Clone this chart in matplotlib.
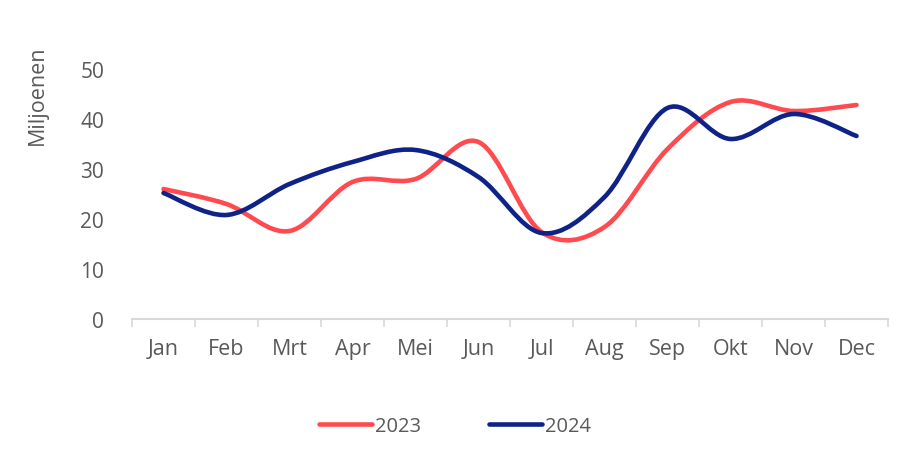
import numpy as np
import matplotlib.pyplot as plt
from matplotlib.path import Path
from matplotlib.patches import PathPatch
from matplotlib.lines import Line2D

plt.rcParams['font.family'] = ['Open Sans', 'DejaVu Sans']

months = ["Jan", "Feb", "Mrt", "Apr", "Mei", "Jun", "Jul", "Aug", "Sep", "Okt", "Nov", "Dec"]
values_2023 = [26.0, 23.0, 17.6, 27.4, 28.0, 35.4, 17.4, 18.4, 34.0, 43.4, 41.6, 42.8]
values_2024 = [25.2, 20.8, 27.0, 31.4, 33.8, 28.4, 17.2, 24.4, 42.2, 36.0, 41.0, 36.6]

red = "#FF4B4F"
navy = "#0E2287"
text_col = "#595959"


# Excel-style smoothed line: cubic Bezier through points (Catmull-Rom tangents)
def smooth_path(x, y):
    x = np.asarray(x, float)
    y = np.asarray(y, float)
    n = len(x)
    verts = [(x[0], y[0])]
    codes = [Path.MOVETO]
    for i in range(n - 1):
        p0 = (x[i - 1], y[i - 1]) if i > 0 else (x[i], y[i])
        p1 = (x[i], y[i])
        p2 = (x[i + 1], y[i + 1])
        p3 = (x[i + 2], y[i + 2]) if i + 2 < n else (x[i + 1], y[i + 1])
        c1 = (p1[0] + (p2[0] - p0[0]) / 6, p1[1] + (p2[1] - p0[1]) / 6)
        c2 = (p2[0] - (p3[0] - p1[0]) / 6, p2[1] - (p3[1] - p1[1]) / 6)
        verts += [c1, c2, p2]
        codes += [Path.CURVE4] * 3
    return Path(verts, codes)


fig = plt.figure(figsize=(8.97, 4.52), dpi=100)
ax = fig.add_axes([132 / 897, 132 / 452, 756 / 897, 250 / 452])

xs = np.arange(len(months))
for vals, col in [(values_2023, red), (values_2024, navy)]:
    patch = PathPatch(smooth_path(xs, vals), facecolor="none", edgecolor=col,
                      lw=3.3, capstyle="round", joinstyle="round", clip_on=False)
    ax.add_patch(patch)

ax.set_xlim(-0.5, len(months) - 0.5)
ax.set_ylim(0, 50)
ax.set_yticks(range(0, 51, 10))
ax.set_xticks(xs)
ax.set_xticklabels(months)
ax.set_xticks(np.arange(-0.5, len(months), 1), minor=True)
ax.tick_params(axis="x", which="major", length=0, pad=14, labelsize=15.5, labelcolor=text_col)
ax.tick_params(axis="x", which="minor", length=6, width=1.2, color="#D9D9D9", direction="out")
ax.tick_params(axis="y", length=0, pad=20, labelsize=15, labelcolor=text_col)

for s in ["top", "right", "left"]:
    ax.spines[s].set_visible(False)
ax.spines["bottom"].set_color("#D9D9D9")
ax.spines["bottom"].set_linewidth(1.5)

fig.text(37 / 897, 1 - 95 / 452, "Miljoenen", rotation=90, ha="center", va="center",
         fontsize=15.5, color=text_col)

handles = [Line2D([], [], color=red, lw=3.3, solid_capstyle="round"),
           Line2D([], [], color=navy, lw=3.3, solid_capstyle="round")]
fig.legend(handles, ["2023", "2024"], loc="center", bbox_to_anchor=(455 / 897, 1 - 427 / 452),
           ncol=2, frameon=False, fontsize=14.5, labelcolor=text_col,
           handlelength=2.6, handletextpad=0.15, columnspacing=3.4)

fig.savefig("out.png", dpi=100)
